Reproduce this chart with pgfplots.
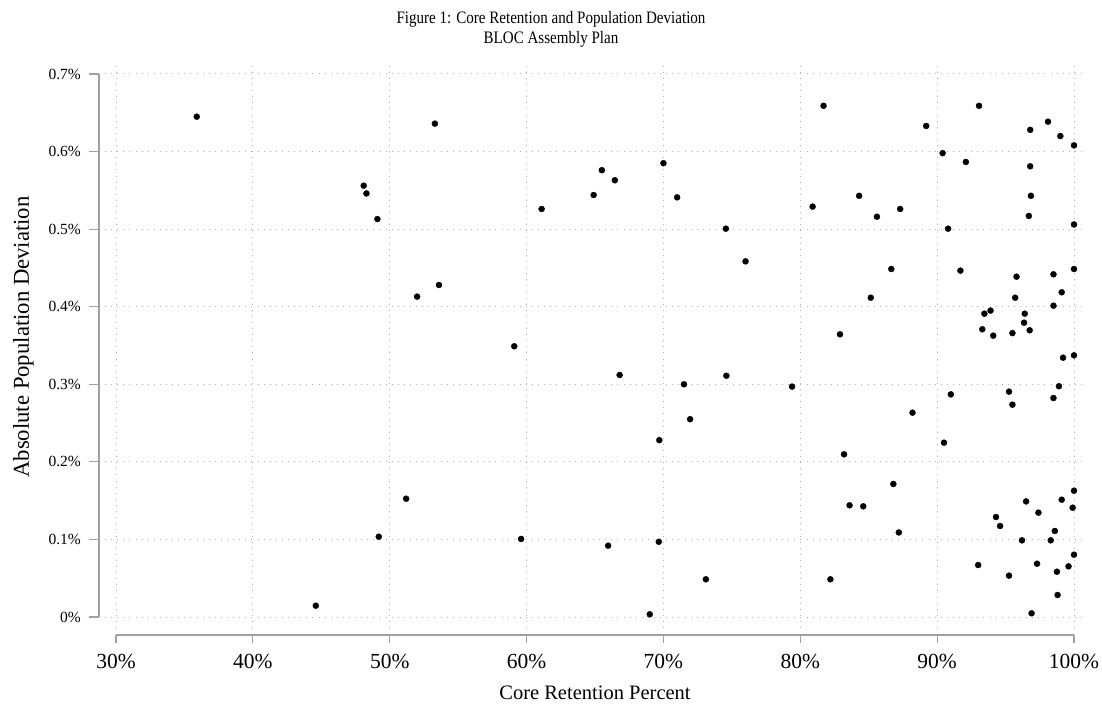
\documentclass[border=0pt]{standalone}
\usepackage{fontspec}
\setmainfont{Liberation Serif}
\newfontfamily\titlefont[FakeStretch=0.86]{Liberation Serif}
\usepackage{pgfplots}
\pgfplotsset{compat=1.18}
\definecolor{axisgray}{HTML}{A0A0A0}
\definecolor{gridgray}{HTML}{B0B0B0}

% core retention (%) vs absolute population deviation (%)
\pgfplotstableread{
x y
35.9 0.645
53.3 0.636
48.1 0.556
48.3 0.546
49.1 0.513
53.6 0.428
52.0 0.413
51.2 0.1525
49.2 0.1035
44.6 0.0146
65.5 0.576
66.45 0.563
64.9 0.544
61.1 0.526
70.0 0.585
71.0 0.541
74.56 0.5006
76.0 0.4585
59.1 0.349
66.8 0.312
74.6 0.311
71.5 0.300
79.4 0.297
71.95 0.255
69.7 0.228
59.6 0.1006
65.96 0.092
69.66 0.097
73.1 0.0486
69.0 0.0035
81.7 0.659
89.2 0.633
93.06 0.659
96.8 0.628
98.1 0.6385
99.0 0.620
100.0 0.608
90.4 0.598
92.1 0.5866
96.8 0.581
96.85 0.543
96.7 0.517
100.0 0.506
84.3 0.543
80.9 0.529
85.6 0.516
87.3 0.526
90.8 0.5006
86.65 0.4486
91.7 0.4465
95.8 0.4387
98.5 0.4418
100.0 0.4486
85.15 0.4116
95.7 0.4116
99.1 0.4186
98.5 0.4013
93.45 0.391
93.9 0.395
96.4 0.391
96.35 0.3794
93.3 0.3709
94.1 0.3627
95.5 0.366
96.76 0.3696
82.9 0.3644
99.2 0.3343
100.0 0.3373
91.0 0.287
95.25 0.2905
95.5 0.2737
98.9 0.2975
98.5 0.2823
88.2 0.2634
83.2 0.2097
90.5 0.2247
86.8 0.1715
83.6 0.144
84.6 0.1427
87.2 0.109
82.2 0.0486
100.0 0.1628
96.5 0.149
99.1 0.1512
99.9 0.1409
94.3 0.1289
94.6 0.1173
97.4 0.1345
98.6 0.1109
96.2 0.0988
98.3 0.0988
100.0 0.0803
93.0 0.067
97.3 0.0687
99.6 0.0653
95.25 0.0533
98.75 0.0584
98.8 0.0284
96.9 0.0048
}\retention

\begin{document}
\begin{tikzpicture}
\begin{axis}[
    scale only axis,
    width=980pt, height=565pt,
    xmin=29.196, xmax=100.804,
    ymin=-0.014181, ymax=0.714181,
    axis line style={draw=none},
    major tick length=0pt,
    xtick={30,40,...,100},
    xticklabels={30\%,40\%,50\%,60\%,70\%,80\%,90\%,100\%},
    ytick={0,0.1,0.2,0.3,0.4,0.5,0.6,0.7},
    yticklabels={0\%,0.1\%,0.2\%,0.3\%,0.4\%,0.5\%,0.6\%,0.7\%},
    xticklabel style={font=\fontsize{21.5}{24}\selectfont, inner sep=0pt, yshift=-26pt},
    yticklabel style={font=\fontsize{15.5}{18}\selectfont, inner sep=0pt, xshift=-24pt},
    grid=major,
    major grid style={gridgray, line width=1pt, dash pattern=on 1pt off 5.1pt},
    clip=false,
]
\addplot[only marks, mark=*, mark size=3pt, black] table[x=x, y=y] {\retention};
\end{axis}
% axis lines offset from the plot region
\draw[axisgray, line width=2pt] (-6.5pt,11pt) -- (-6.5pt,554pt);
\draw[axisgray, line width=2pt] (11pt,-6.5pt) -- (969pt,-6.5pt);
\foreach \k in {0,...,7}
    \draw[axisgray, line width=1.2pt] (-6.5pt,{(11+77.5714*\k)*1pt}) -- ++(-10pt,0);
\foreach \k in {0,...,7}
    \draw[axisgray, line width=1.2pt] ({(11+136.857*\k)*1pt},-6.5pt) -- ++(0,-8pt);
% titles
\node[anchor=base, font=\fontsize{20.5}{24}\selectfont] at (490pt,-71pt) {Core Retention Percent};
\node[anchor=base, rotate=90, font=\fontsize{22.7}{25}\selectfont] at (-76pt,291pt) {Absolute Population Deviation};
\node[anchor=base, font=\titlefont\fontsize{17.5}{20}\selectfont] at (446pt,604pt) {Figure 1: Core Retention and Population Deviation};
\node[anchor=base, font=\titlefont\fontsize{17.5}{20}\selectfont] at (446pt,584pt) {BLOC Assembly Plan};
\pgfresetboundingbox
\path[use as bounding box] (-105pt,-76pt) rectangle (997pt,628pt);
\end{tikzpicture}
\end{document}
